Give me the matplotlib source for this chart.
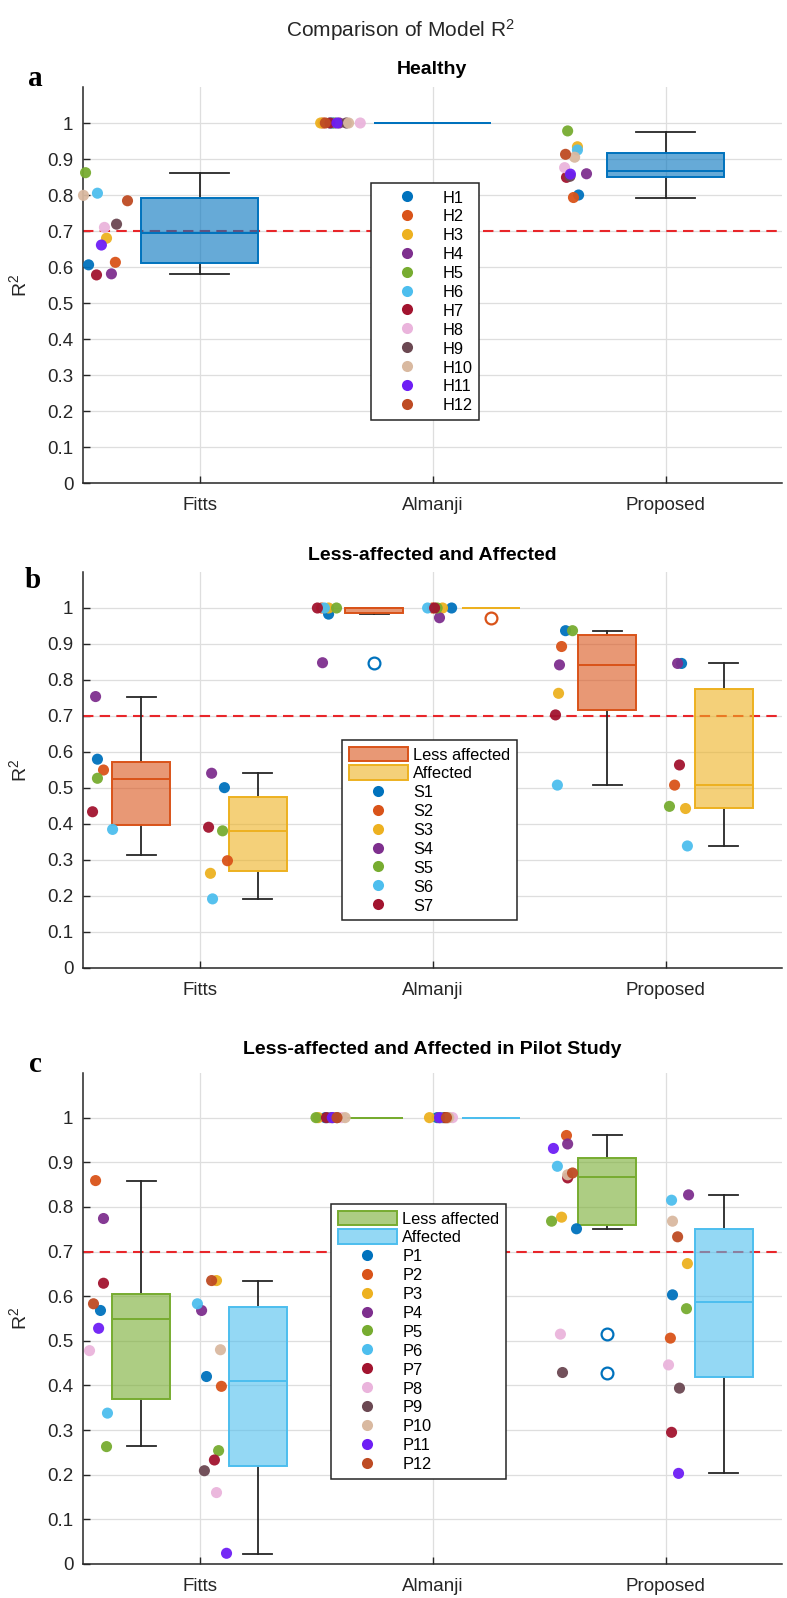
import numpy as np
import matplotlib
matplotlib.use("Agg")
import matplotlib.pyplot as plt
from matplotlib.colors import to_rgba
from matplotlib.patches import Patch
from matplotlib.lines import Line2D

plt.rcParams['font.family'] = ['Liberation Sans', 'DejaVu Sans']
plt.rcParams['mathtext.fontset'] = 'custom'
plt.rcParams['mathtext.rm'] = 'Liberation Sans'
plt.rcParams['mathtext.it'] = 'Liberation Sans:italic'
plt.rcParams['mathtext.bf'] = 'Liberation Sans:bold'

# ---------------- data ----------------
methods = ["Fitts", "Almanji", "Proposed"]
yticks = [0, 0.1, 0.2, 0.3, 0.4, 0.5, 0.6, 0.7, 0.8, 0.9, 1.0]
ytick_labels = ["0", "0.1", "0.2", "0.3", "0.4", "0.5", "0.6", "0.7", "0.8", "0.9", "1"]
threshold = 0.7

subj_colors = ['#0072BD', '#D95319', '#EDB120', '#7E2F8E', '#77AC30', '#4DBEEE',
               '#A2142F', '#EAB4DC', '#6B4852', '#D9B9A0', '#6E1EF5', '#BE4B23']

healthy_ids = ["H1", "H2", "H3", "H4", "H5", "H6", "H7", "H8", "H9", "H10", "H11", "H12"]
a_fitts = [0.606, 0.613, 0.680, 0.581, 0.862, 0.805, 0.578, 0.710, 0.719, 0.799, 0.661, 0.784]
a_almanji = [1.0, 1.0, 1.0, 1.0, 1.0, 1.0, 1.0, 1.0, 1.0, 1.0, 1.0, 1.0]
a_proposed = [0.800, 0.793, 0.934, 0.859, 0.978, 0.925, 0.849, 0.876, 0.852, 0.905, 0.858, 0.913]
# box stats: q1, median, q3, whisker low, whisker high
a_box = [[0.610, 0.694, 0.793, 0.580, 0.860],
         [1.0, 1.0, 1.0, 1.0, 1.0],
         [0.851, 0.868, 0.918, 0.793, 0.976]]
a_fliers = [[], [], []]

stroke_ids = ["S1", "S2", "S3", "S4", "S5", "S6", "S7"]
b_la_fitts = [0.580, 0.550, np.nan, 0.754, 0.527, 0.385, 0.434]
b_a_fitts = [0.501, 0.298, 0.263, 0.541, 0.381, 0.192, 0.391]
b_la_almanji = [0.983, 1.0, 1.0, 0.848, 1.0, 1.0, 1.0]
b_a_almanji = [1.0, 1.0, 1.0, 0.973, 1.0, 1.0, 1.0]
b_la_proposed = [0.937, 0.893, 0.763, 0.842, 0.937, 0.508, 0.703]
b_a_proposed = [0.846, 0.508, 0.443, 0.846, 0.449, 0.339, 0.564]
b_la_box = [[0.398, 0.525, 0.571, 0.314, 0.754],
            [0.987, 1.0, 1.0, 0.983, 1.0],
            [0.717, 0.842, 0.925, 0.508, 0.935]]
b_a_box = [[0.270, 0.381, 0.476, 0.192, 0.541],
           [1.0, 1.0, 1.0, 1.0, 1.0],
           [0.445, 0.508, 0.775, 0.339, 0.846]]
b_la_fliers = [[], [0.848], []]
b_a_fliers = [[], [0.973], []]

pilot_ids = ["P1", "P2", "P3", "P4", "P5", "P6", "P7", "P8", "P9", "P10", "P11", "P12"]
c_la_fitts = [0.568, 0.859, np.nan, 0.774, 0.263, 0.338, 0.629, 0.478, np.nan, np.nan, 0.528, 0.583]
c_a_fitts = [0.420, 0.398, 0.635, 0.568, 0.254, 0.583, 0.233, 0.160, 0.209, 0.480, 0.024, 0.635]
c_la_almanji = [1.0, 1.0, 1.0, 1.0, 1.0, 1.0, 1.0, 1.0, 1.0, 1.0, 1.0, 1.0]
c_a_almanji = [1.0, 1.0, 1.0, 1.0, 1.0, 1.0, 1.0, 1.0, 1.0, 1.0, 1.0, 1.0]
c_la_proposed = [0.751, 0.960, 0.777, 0.941, 0.768, 0.891, 0.865, 0.515, 0.429, 0.872, 0.931, 0.876]
c_a_proposed = [0.603, 0.506, 0.673, 0.827, 0.572, 0.815, 0.295, 0.446, 0.394, 0.768, 0.203, 0.733]
c_la_box = [[0.369, 0.549, 0.605, 0.264, 0.859],
            [1.0, 1.0, 1.0, 1.0, 1.0],
            [0.760, 0.868, 0.909, 0.751, 0.960]]
c_a_box = [[0.220, 0.410, 0.575, 0.022, 0.635],
           [1.0, 1.0, 1.0, 1.0, 1.0],
           [0.420, 0.588, 0.750, 0.203, 0.827]]
c_la_fliers = [[], [], [0.515, 0.429]]
c_a_fliers = [[], [], []]

# ---------------- jitter (horizontal offsets from category centre) ----------------
a_jit = [
    [-0.476, -0.361, -0.399, -0.378, -0.489, -0.438, -0.442, -0.408, -0.356, -0.498, -0.421, -0.309],
    [-0.43, -0.47, -0.48, -0.40, -0.42, -0.44, -0.44, -0.31, -0.37, -0.36, -0.41, -0.46],
    [-0.373, -0.395, -0.378, -0.339, -0.420, -0.378, -0.425, -0.433, -0.410, -0.390, -0.408, -0.429],
]
b_la_jit = [
    [-0.438, -0.412, -0.42, -0.446, -0.438, -0.373, -0.459],
    [-0.446, -0.476, -0.446, -0.472, -0.412, -0.464, -0.494],
    [-0.429, -0.446, -0.459, -0.455, -0.399, -0.464, -0.472],
]
b_a_jit = [
    [0.107, 0.120, 0.047, 0.052, 0.099, 0.056, 0.039],
    [0.082, 0.000, 0.043, 0.030, 0.020, -0.021, 0.009],
    [0.069, 0.039, 0.086, 0.052, 0.017, 0.094, 0.060],
]
c_la_jit = [
    [-0.425, -0.446, -0.42, -0.412, -0.399, -0.395, -0.412, -0.472, -0.42, -0.42, -0.433, -0.455],
    [-0.46, -0.44, -0.49, -0.43, -0.50, -0.45, -0.455, -0.39, -0.41, -0.375, -0.43, -0.41],
    [-0.382, -0.425, -0.446, -0.420, -0.489, -0.464, -0.420, -0.451, -0.442, -0.420, -0.481, -0.399],
]
c_a_jit = [
    [0.030, 0.094, 0.073, 0.009, 0.082, -0.009, 0.064, 0.073, 0.021, 0.090, 0.116, 0.052],
    [0.02, 0.03, -0.013, 0.043, 0.05, 0.035, 0.055, 0.086, 0.065, 0.07, 0.03, 0.06],
    [0.030, 0.021, 0.094, 0.099, 0.090, 0.026, 0.026, 0.013, 0.060, 0.030, 0.056, 0.052],
]

# ---------------- styles ----------------
C_BLUE = '#0072BD'
C_ORANGE = '#D95319'
C_YELLOW = '#EDB120'
C_GREEN = '#77AC30'
C_CYAN = '#4DBEEE'
DARK = '#262626'
GRID = '#DEDEDE'
PT_SIZE = 64

W, H = 787, 1598
fig = plt.figure(figsize=(W / 100, H / 100), dpi=100)


def fx(px):
    return px / W


def fy(py):
    return 1 - py / H


def make_axes(top_px, bottom_px):
    ax = fig.add_axes([fx(83), fy(bottom_px), fx(782) - fx(83), fy(top_px) - fy(bottom_px)])
    ax.set_xlim(0.5, 3.5)
    ax.set_ylim(0, 1.1)
    ax.set_xticks([1, 2, 3])
    ax.set_xticklabels(methods, fontsize=13.5, color=DARK)
    ax.set_yticks(yticks)
    ax.set_yticklabels(ytick_labels, fontsize=13.5, color=DARK)
    ax.tick_params(axis='x', direction='in', length=5, width=1.0, pad=10, colors=DARK)
    ax.tick_params(axis='y', direction='in', length=5, width=1.0, pad=7, colors=DARK)
    for s in ['top', 'right']:
        ax.spines[s].set_visible(False)
    for s in ['left', 'bottom']:
        ax.spines[s].set_color(DARK)
        ax.spines[s].set_linewidth(1.1)
    ax.grid(True, color=GRID, linewidth=0.9, zorder=0)
    ax.set_axisbelow(True)
    ax.axhline(threshold, color='#E8262A', linestyle=(0, (5, 3)), linewidth=1.5, zorder=1.5)
    ax.set_ylabel(r'R$^\mathrm{2}$', fontsize=14, color=DARK)
    ax.yaxis.set_label_coords(-0.075, 0.5)
    return ax


def draw_box(ax, pos, width, stats, fliers, color, flier_color):
    st = dict(q1=stats[0], med=stats[1], q3=stats[2], whislo=stats[3], whishi=stats[4],
              fliers=np.array(fliers))
    ax.bxp([st], positions=[pos], widths=[width], patch_artist=True, showfliers=True,
           capwidths=[width / 2], manage_ticks=False,
           boxprops=dict(facecolor=to_rgba(color, 0.6), edgecolor=color, linewidth=1.4, zorder=3),
           medianprops=dict(color=color, linewidth=1.4, zorder=4),
           whiskerprops=dict(color=DARK, linewidth=1.3, zorder=2),
           capprops=dict(color=DARK, linewidth=1.3, zorder=2),
           flierprops=dict(marker='o', markerfacecolor='none', markeredgecolor=flier_color,
                           markersize=8.5, markeredgewidth=1.6, zorder=4))


def draw_points(ax, pos, values, jit):
    vals = np.asarray(values, dtype=float)
    xs = pos + np.asarray(jit)
    ax.scatter(xs, vals, s=PT_SIZE, c=subj_colors[:len(vals)], edgecolors='none',
               alpha=0.95, zorder=5, clip_on=False)


def subject_handles(ids):
    return [Line2D([], [], linestyle='none', marker='o', markersize=8,
                   markerfacecolor=subj_colors[i], markeredgecolor='none') for i in range(len(ids))]


def put_legend(ax, handles, labels, x_px, y_px):
    leg = ax.legend(handles, labels, loc='upper left',
                    bbox_to_anchor=(fx(x_px), fy(y_px)), bbox_transform=fig.transFigure,
                    borderaxespad=0, fontsize=11.8, frameon=True, fancybox=False,
                    edgecolor=DARK, framealpha=1, handlelength=3.6, handleheight=1.0,
                    handletextpad=0.35, labelspacing=0.18, borderpad=0.4)
    leg.get_frame().set_linewidth(1.1)
    leg.set_zorder(10)
    return leg


# ---------------- panel a ----------------
ax_a = make_axes(87, 483)
a_vals = [a_fitts, a_almanji, a_proposed]
for k in range(3):
    draw_box(ax_a, k + 1, 0.5, a_box[k], a_fliers[k], C_BLUE, C_BLUE)
    draw_points(ax_a, k + 1, a_vals[k], a_jit[k])
put_legend(ax_a, subject_handles(healthy_ids), healthy_ids, 371, 183)

# ---------------- panel b ----------------
ax_b = make_axes(572, 968)
b_la_vals = [b_la_fitts, b_la_almanji, b_la_proposed]
b_a_vals = [b_a_fitts, b_a_almanji, b_a_proposed]
for k in range(3):
    draw_box(ax_b, k + 1 - 0.25, 0.25, b_la_box[k], b_la_fliers[k], C_ORANGE, C_BLUE)
    draw_box(ax_b, k + 1 + 0.25, 0.25, b_a_box[k], b_a_fliers[k], C_YELLOW, C_ORANGE)
    draw_points(ax_b, k + 1, b_la_vals[k], b_la_jit[k])
    draw_points(ax_b, k + 1, b_a_vals[k], b_a_jit[k])
hb = [Patch(facecolor=to_rgba(C_ORANGE, 0.6), edgecolor=C_ORANGE, linewidth=1.4),
      Patch(facecolor=to_rgba(C_YELLOW, 0.6), edgecolor=C_YELLOW, linewidth=1.4)] + subject_handles(stroke_ids)
put_legend(ax_b, hb, ["Less affected", "Affected"] + stroke_ids, 342, 740)

# ---------------- panel c ----------------
ax_c = make_axes(1073, 1564)
c_la_vals = [c_la_fitts, c_la_almanji, c_la_proposed]
c_a_vals = [c_a_fitts, c_a_almanji, c_a_proposed]
for k in range(3):
    draw_box(ax_c, k + 1 - 0.25, 0.25, c_la_box[k], c_la_fliers[k], C_GREEN, C_BLUE)
    draw_box(ax_c, k + 1 + 0.25, 0.25, c_a_box[k], c_a_fliers[k], C_CYAN, C_ORANGE)
    draw_points(ax_c, k + 1, c_la_vals[k], c_la_jit[k])
    draw_points(ax_c, k + 1, c_a_vals[k], c_a_jit[k])
hc = [Patch(facecolor=to_rgba(C_GREEN, 0.6), edgecolor=C_GREEN, linewidth=1.4),
      Patch(facecolor=to_rgba(C_CYAN, 0.6), edgecolor=C_CYAN, linewidth=1.4)] + subject_handles(pilot_ids)
put_legend(ax_c, hc, ["Less affected", "Affected"] + pilot_ids, 331, 1204)

# ---------------- titles and panel letters ----------------
fig.text(fx(400), fy(30), r'Comparison of Model R$^\mathrm{2}$', fontsize=15, color=DARK,
         ha='center', va='center')
panel_titles = ["Healthy", "Less-affected and Affected", "Less-affected and Affected in Pilot Study"]
title_y = [70, 555, 1050]
for t, yy in zip(panel_titles, title_y):
    fig.text(fx(432), fy(yy), t, fontsize=14, fontweight='bold', color='black',
             ha='center', va='center')
letters = ["a", "b", "c"]
letter_pos = [(35, 78), (33, 581), (35, 1064)]
for l, (xx, yy) in zip(letters, letter_pos):
    fig.text(fx(xx), fy(yy), l, fontsize=21, fontweight='bold', family='Liberation Serif',
             color='black', ha='center', va='center')

fig.savefig('out.png', dpi=100)
